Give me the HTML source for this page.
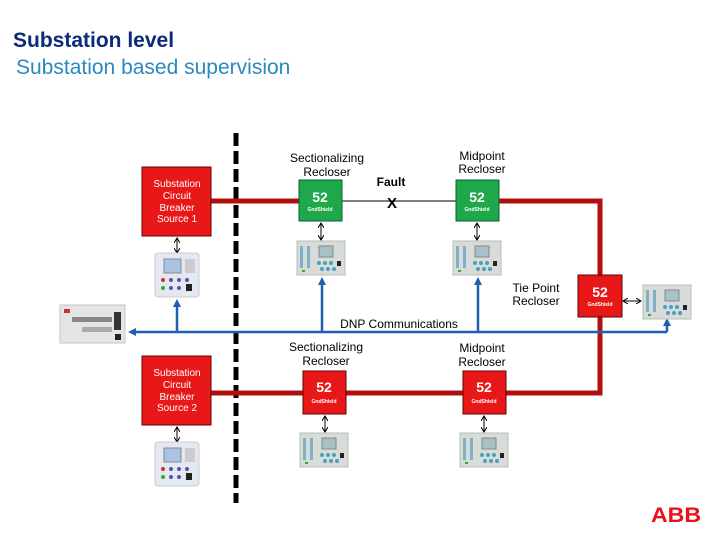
<!DOCTYPE html>
<html><head><meta charset="utf-8"><style>
html,body{margin:0;padding:0;background:#fff;}
svg{display:block;font-family:"Liberation Sans",sans-serif;}
</style></head><body>
<svg width="720" height="540" viewBox="0 0 720 540" xmlns="http://www.w3.org/2000/svg">
<defs>
<marker id="ab" markerWidth="8" markerHeight="8" refX="4" refY="4" orient="auto-start-reverse" markerUnits="userSpaceOnUse"><path d="M0,0 L8,4 L0,8 z" fill="#1f5fb0"/></marker>
<marker id="sk" markerWidth="6" markerHeight="6" refX="5" refY="3" orient="auto-start-reverse" markerUnits="userSpaceOnUse"><path d="M0,0 L5,3 L0,6" fill="none" stroke="#000" stroke-width="1"/></marker>
<g id="relay">
<rect x="0" y="0" width="48" height="34" fill="#d8dcd8" stroke="#b8bcb8"/>
<rect x="3" y="5" width="3" height="22" fill="#7fb0c8"/><rect x="10" y="5" width="3" height="22" fill="#7fb0c8"/>
<rect x="22" y="5" width="14" height="11" fill="#a8c0c8" stroke="#888"/>
<circle cx="22" cy="22" r="2" fill="#4aa0c0"/><circle cx="28" cy="22" r="2" fill="#4aa0c0"/><circle cx="34" cy="22" r="2" fill="#4aa0c0"/><circle cx="25" cy="28" r="2" fill="#4aa0c0"/><circle cx="31" cy="28" r="2" fill="#4aa0c0"/><circle cx="37" cy="28" r="2" fill="#4aa0c0"/>
<rect x="40" y="20" width="4" height="5" fill="#222"/><rect x="5" y="29" width="3" height="2" fill="#3a3"/>
</g>
<g id="ied">
<rect x="0" y="0" width="44" height="44" rx="3" fill="#e4e8f0" stroke="#c8ccd4"/>
<rect x="9" y="6" width="17" height="14" fill="#a8c4e0" stroke="#889"/>
<rect x="30" y="6" width="10" height="14" fill="#ccc"/>
<circle cx="8" cy="27" r="2" fill="#c33"/><circle cx="16" cy="27" r="2" fill="#55a"/><circle cx="24" cy="27" r="2" fill="#55a"/><circle cx="32" cy="27" r="2" fill="#55a"/>
<circle cx="8" cy="35" r="2" fill="#3a3"/><circle cx="16" cy="35" r="2" fill="#55a"/><circle cx="24" cy="35" r="2" fill="#55a"/><rect x="31" y="31" width="6" height="7" fill="#222"/>
</g>
</defs>

<text x="13" y="47" font-size="21" font-weight="bold" fill="#0c2a7a">Substation level</text>
<text x="16" y="74" font-size="21" fill="#2a8abf">Substation based supervision</text>

<!-- dashed divider -->
<line x1="236" y1="133" x2="236" y2="503" stroke="#000" stroke-width="5" stroke-dasharray="13,5"/>

<!-- red feeders -->
<polyline points="211,201 300,201" stroke="#b01010" stroke-width="5" fill="none"/>
<line x1="342" y1="201" x2="456" y2="201" stroke="#000" stroke-width="1"/>
<polyline points="499,201 600,201 600,393 211,393" stroke="#b01010" stroke-width="5" fill="none"/>

<!-- DNP -->
<line x1="132" y1="332" x2="667" y2="332" stroke="#1f5fb0" stroke-width="2.5" marker-start="url(#ab)"/>
<line x1="667" y1="332" x2="667" y2="322" stroke="#1f5fb0" stroke-width="2.5" marker-end="url(#ab)"/>
<line x1="177" y1="332" x2="177" y2="303" stroke="#1f5fb0" stroke-width="2.5" marker-end="url(#ab)"/>
<line x1="322" y1="332" x2="322" y2="281" stroke="#1f5fb0" stroke-width="2.5" marker-end="url(#ab)"/>
<line x1="478" y1="332" x2="478" y2="281" stroke="#1f5fb0" stroke-width="2.5" marker-end="url(#ab)"/>
<text x="399" y="328" font-size="12" text-anchor="middle" fill="#000">DNP Communications</text>

<!-- substation boxes -->
<rect x="142" y="167" width="69" height="69" fill="#e81818" stroke="#600" stroke-width="1"/>
<g font-size="10" fill="#fff" text-anchor="middle"><text x="177" y="187">Substation</text><text x="177" y="199">Circuit</text><text x="177" y="211">Breaker</text><text x="177" y="222">Source 1</text></g>
<rect x="142" y="356" width="69" height="69" fill="#e81818" stroke="#600" stroke-width="1"/>
<g font-size="10" fill="#fff" text-anchor="middle"><text x="177" y="376">Substation</text><text x="177" y="388">Circuit</text><text x="177" y="400">Breaker</text><text x="177" y="411">Source 2</text></g>

<!-- reclosers -->
<g font-weight="bold" fill="#fff" text-anchor="middle">
<rect x="299" y="180" width="43" height="41" fill="#1ea84a" stroke="#063"/><text x="320" y="202" font-size="14">52</text><text x="320" y="211" font-size="5">GndShield</text>
<rect x="456" y="180" width="43" height="41" fill="#1ea84a" stroke="#063"/><text x="477" y="202" font-size="14">52</text><text x="477" y="211" font-size="5">GndShield</text>
<rect x="578" y="275" width="44" height="42" fill="#e81818" stroke="#600"/><text x="600" y="297" font-size="14">52</text><text x="600" y="306" font-size="5">GndShield</text>
<rect x="303" y="371" width="43" height="43" fill="#e81818" stroke="#600"/><text x="324" y="392" font-size="14">52</text><text x="324" y="403" font-size="5">GndShield</text>
<rect x="463" y="371" width="43" height="43" fill="#e81818" stroke="#600"/><text x="484" y="392" font-size="14">52</text><text x="484" y="403" font-size="5">GndShield</text>
</g>

<g font-size="12" fill="#000" text-anchor="middle">
<text x="327" y="162">Sectionalizing</text><text x="327" y="176">Recloser</text>
<text x="482" y="160">Midpoint</text><text x="482" y="173">Recloser</text>
<text x="391" y="186" font-weight="bold">Fault</text>
<text x="392" y="208" font-size="15" font-weight="bold">X</text>
<text x="536" y="292">Tie Point</text><text x="536" y="305">Recloser</text>
<text x="326" y="351">Sectionalizing</text><text x="326" y="365">Recloser</text>
<text x="482" y="352">Midpoint</text><text x="482" y="366">Recloser</text>
</g>

<!-- small black double arrows -->
<g stroke="#000" stroke-width="1">
<line x1="177" y1="238" x2="177" y2="253" marker-start="url(#sk)" marker-end="url(#sk)"/>
<line x1="321" y1="223" x2="321" y2="240" marker-start="url(#sk)" marker-end="url(#sk)"/>
<line x1="477" y1="223" x2="477" y2="240" marker-start="url(#sk)" marker-end="url(#sk)"/>
<line x1="177" y1="427" x2="177" y2="442" marker-start="url(#sk)" marker-end="url(#sk)"/>
<line x1="325" y1="416" x2="325" y2="432" marker-start="url(#sk)" marker-end="url(#sk)"/>
<line x1="484" y1="416" x2="484" y2="432" marker-start="url(#sk)" marker-end="url(#sk)"/>
<line x1="623" y1="301" x2="641" y2="301" marker-start="url(#sk)" marker-end="url(#sk)"/>
</g>

<!-- devices -->
<use href="#ied" x="155" y="253"/>
<use href="#ied" x="155" y="442"/>
<use href="#relay" x="297" y="241"/>
<use href="#relay" x="453" y="241"/>
<use href="#relay" x="643" y="285"/>
<use href="#relay" x="300" y="433"/>
<use href="#relay" x="460" y="433"/>
<g>
<rect x="60" y="305" width="65" height="38" fill="#e4e6e4" stroke="#c4c6c4"/>
<rect x="64" y="309" width="6" height="4" fill="#c33"/>
<rect x="72" y="317" width="40" height="5" fill="#888"/>
<rect x="82" y="327" width="30" height="5" fill="#aaa"/>
<rect x="114" y="312" width="7" height="18" fill="#333"/>
<rect x="115" y="334" width="6" height="6" fill="#222"/>
</g>

<!-- ABB logo -->
<g fill="#e8101a" font-weight="bold"><text x="676" y="522" font-size="21" text-anchor="middle" textLength="50" lengthAdjust="spacingAndGlyphs">ABB</text></g>
</svg>
</body></html>
